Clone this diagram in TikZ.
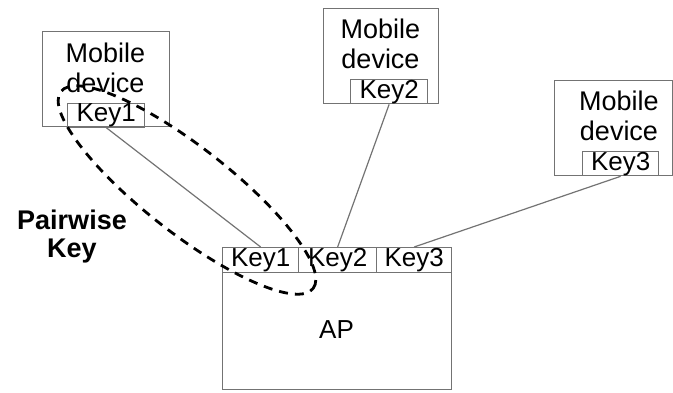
\documentclass[tikz,border=0pt]{standalone}
\usepackage{fontspec}
\setmainfont{Liberation Sans}
\begin{document}
\begin{tikzpicture}[x=1pt,y=-1pt,
  frame/.style={draw=black!55,line width=1.3pt,inner sep=0pt,anchor=north west},
  keybox/.style={draw=black!55,line width=1.3pt,inner sep=0pt,anchor=north west,
    font=\fontsize{26}{28}\selectfont},
  devtext/.style={align=center,inner sep=0pt,font=\fontsize{27}{30}\selectfont},
  link/.style={draw=black!55,line width=1.2pt},
  pairdash/.style={draw=black,line width=2.8pt,dash pattern=on 9pt off 7pt}]
\useasboundingbox (0,0) rectangle (673,392);

% mobile device 1
\node[frame,minimum width=127pt,minimum height=95pt] (m1) at (42,31) {};
\node[devtext] (t1) at (105.5,68) {Mobile\\device};
\node[keybox,minimum width=77pt,minimum height=23pt] (mk1) at (67,103) {Key1};

% mobile device 2
\node[frame,minimum width=115pt,minimum height=95pt] (m2) at (323,8) {};
\node[devtext] (t2) at (380.5,44) {Mobile\\device};
\node[keybox,minimum width=77pt,minimum height=24pt] (mk2) at (350,79) {Key2};

% mobile device 3
\node[frame,minimum width=118pt,minimum height=95pt] (m3) at (554,80) {};
\node[devtext] (t3) at (619,116) {Mobile\\device};
\node[keybox,minimum width=76pt,minimum height=24pt] (mk3) at (582,151) {Key3};

% access point with its key table
\node[frame,minimum width=229pt,minimum height=142pt] (ap) at (222,247) {};
\node[keybox,minimum width=76pt,minimum height=25pt] (apk1) at (222,247) {Key1};
\node[keybox,minimum width=78pt,minimum height=25pt] (apk2) at (298,247) {Key2};
\node[keybox,minimum width=75pt,minimum height=25pt] (apk3) at (376,247) {Key3};
\node[inner sep=0pt,font=\fontsize{26}{30}\selectfont] (aplabel) at (336.5,330) {AP};

% links between the keys
\draw[link] (mk1.south) -- (apk1.north);
\draw[link] (mk2.south) -- (apk2.north);
\draw[link] (mk3.south) -- (apk3.north);

% pairwise key grouping
\draw[pairdash] (187,190) ellipse[x radius=160pt,y radius=43pt,rotate=-38];
\node[align=center,inner sep=0pt,font=\bfseries\fontsize{27}{28}\selectfont] (pk) at (72,237) {Pairwise\\Key};
\end{tikzpicture}
\end{document}
